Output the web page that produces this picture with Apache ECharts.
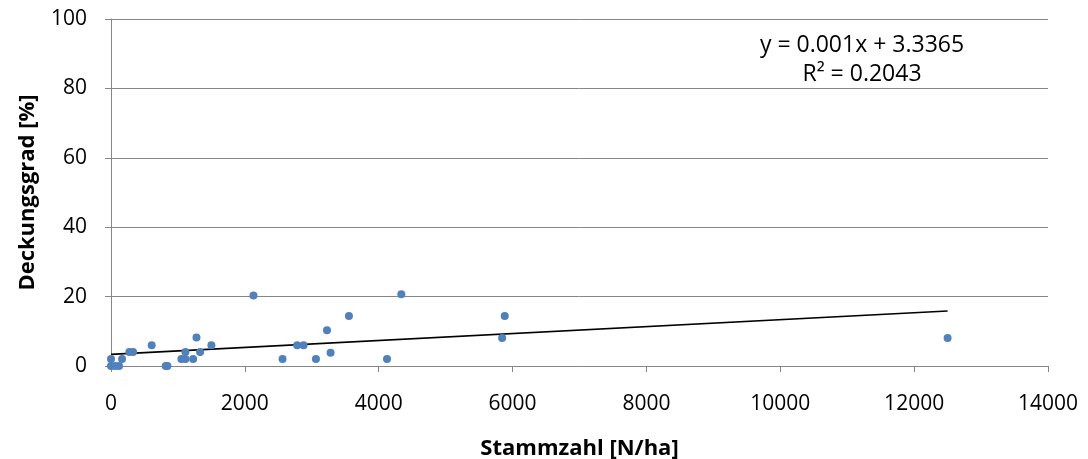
<!DOCTYPE html>
<html>
<head>
<meta charset="utf-8">
<script src="https://cdn.jsdelivr.net/npm/echarts@6/dist/echarts.min.js"></script>
<style>
html,body{margin:0;padding:0;background:#fff;}
#chart{width:1088px;height:459px;}
</style>
</head>
<body>
<div id="chart"></div>
<script>
// Data
const stammzahl = [0, 0, 60, 120, 165, 274, 330, 608, 818, 843, 1052, 1112, 1112, 1227, 1277, 1331, 1500, 2129, 2563, 2782, 2877, 3062, 3227, 3281, 3555, 4124, 4338, 5844, 5883, 12500];
const deckungsgrad = [2, 0, 0, 0, 2, 4, 4, 6, 0, 0, 2, 2, 4, 2, 8.2, 4, 6, 20.3, 2, 6, 6, 2, 10.3, 3.8, 14.4, 2, 20.7, 8.1, 14.4, 8.1];
const trendX = [0, 12500];
const trendY = [3.34, 15.84];
const equationLines = ['y = 0.001x + 3.3365', 'R² = 0.2043'];
const xTicks = [0, 2000, 4000, 6000, 8000, 10000, 12000, 14000];
const yTicks = [0, 20, 40, 60, 80, 100];

const points = stammzahl.map((x, i) => [x, deckungsgrad[i]]);
const trend = trendX.map((x, i) => [x, trendY[i]]);

const FONT = 'Open Sans';
const chart = echarts.init(document.getElementById('chart'), null, {renderer: 'canvas'});
chart.setOption({
  animation: false,
  backgroundColor: '#ffffff',
  grid: {left: 111, right: 40, top: 19, bottom: 93, containLabel: false, outerBoundsMode: 'none'},
  xAxis: {
    type: 'value', min: xTicks[0], max: xTicks[xTicks.length - 1], interval: 2000,
    name: 'Stammzahl [N/ha]', nameLocation: 'middle', nameGap: 72,
    nameTextStyle: {fontFamily: FONT, fontWeight: 'bold', fontSize: 22, color: '#000'},
    axisLine: {show: true, lineStyle: {color: '#868686', width: 1}},
    axisTick: {show: true, inside: false, length: 6, lineStyle: {color: '#868686'}},
    axisLabel: {fontFamily: FONT, fontSize: 21, color: '#000', margin: 28,
      formatter: v => String(v)},
    splitLine: {show: false}
  },
  yAxis: {
    type: 'value', min: yTicks[0], max: yTicks[yTicks.length - 1], interval: 20,
    name: 'Deckungsgrad [%]', nameLocation: 'middle', nameGap: 72, nameRotate: 90,
    nameTextStyle: {fontFamily: FONT, fontWeight: 'bold', fontSize: 22, color: '#000'},
    axisLine: {show: true, lineStyle: {color: '#868686', width: 1}},
    axisTick: {show: true, inside: false, length: 6, lineStyle: {color: '#868686'}},
    axisLabel: {fontFamily: FONT, fontSize: 21, color: '#000', margin: 24,
      formatter: v => String(v)},
    splitLine: {show: true, lineStyle: {color: '#868686', width: 1}}
  },
  graphic: [
    {type: 'text', x: 862, y: 45, style: {text: equationLines[0], fontFamily: FONT, fontSize: 23, fill: '#000', textAlign: 'center', textVerticalAlign: 'middle'}},
    {type: 'text', x: 862, y: 74, style: {text: equationLines[1], fontFamily: FONT, fontSize: 23, fill: '#000', textAlign: 'center', textVerticalAlign: 'middle'}}
  ],
  series: [
    {
      type: 'scatter', data: points, symbol: 'circle', symbolSize: 8,
      itemStyle: {color: '#4F81BD', opacity: 1}, z: 3
    },
    {
      type: 'line', data: trend, symbol: 'none', showSymbol: false,
      lineStyle: {color: '#000', width: 1.6}, z: 2
    }
  ]
});
</script>
</body>
</html>
